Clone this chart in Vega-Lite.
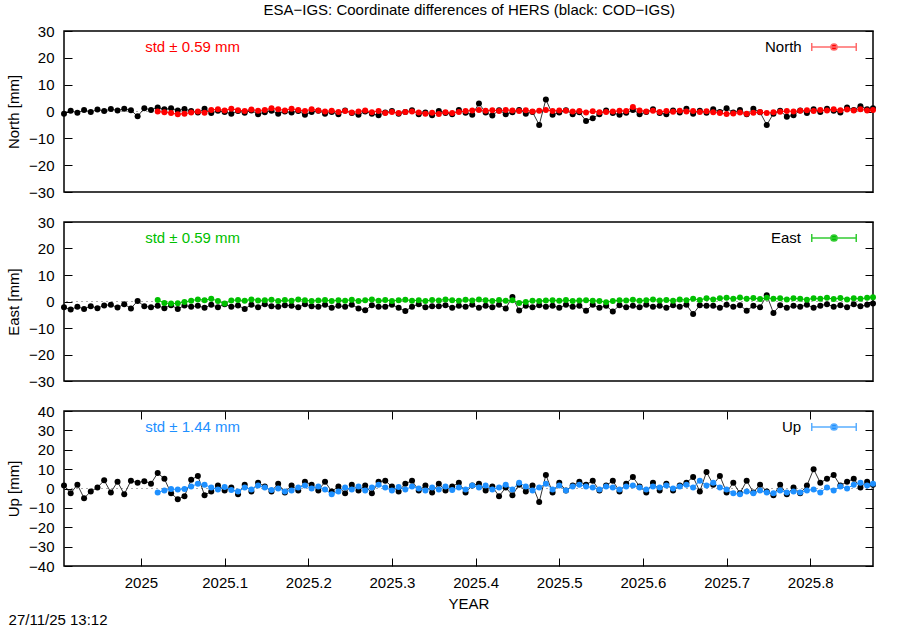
{
  "$schema": "https://vega.github.io/schema/vega-lite/v6.json",
  "background": "white",
  "padding": {"left": 5, "top": 3, "right": 5, "bottom": 0},
  "title": {"text": "ESA−IGS: Coordinate differences of HERS (black: COD−IGS)", "fontSize": 15, "fontWeight": "normal", "font": "Liberation Sans", "anchor": "middle", "offset": 5, "dx": 28, "color": "black"},
  "config": {
    "font": "Liberation Sans",
    "view": {"stroke": "black", "strokeWidth": 1.5},
    "axis": {"labelFontSize": 15, "titleFontSize": 15, "titleFontWeight": "normal", "labelColor": "black", "titleColor": "black", "tickColor": "black", "domain": false, "grid": false, "tickSize": -8, "labelPadding": 18, "tickWidth": 1, "labelFont": "Liberation Sans", "titleFont": "Liberation Sans"},
    "legend": {"titleFont": "Liberation Sans", "labelFont": "Liberation Sans"},
    "concat": {"spacing": 30}
  },
  "data": {"values": [
    {"t":2024.908,"nb":-0.8,"eb":-2.2,"ub":1.5},
    {"t":2024.916,"nb":0.3,"eb":-3.0,"ub":-2.5},
    {"t":2024.924,"nb":-0.5,"eb":-2.0,"ub":2.0},
    {"t":2024.932,"nb":0.6,"eb":-2.8,"ub":-5.0},
    {"t":2024.940,"nb":-0.2,"eb":-1.8,"ub":-1.5},
    {"t":2024.948,"nb":0.7,"eb":-2.5,"ub":0.5},
    {"t":2024.956,"nb":0.2,"eb":-1.5,"ub":4.2},
    {"t":2024.964,"nb":0.9,"eb":-1.2,"ub":-2.0},
    {"t":2024.972,"nb":0.4,"eb":-2.3,"ub":3.5},
    {"t":2024.980,"nb":1.0,"eb":-1.0,"ub":-3.0},
    {"t":2024.988,"nb":0.5,"eb":-2.6,"ub":4.0},
    {"t":2024.996,"nb":-1.8,"eb":0.2,"ub":3.0},
    {"t":2025.004,"nb":1.2,"eb":-1.8,"ub":3.8},
    {"t":2025.012,"nb":0.6,"eb":-2.2,"ub":2.5},
    {"t":2025.020,"nb":1.5,"nc":0.0,"eb":-1.6,"ec":0.6,"ub":8.0,"uc":-2.0},
    {"t":2025.028,"nb":0.8,"nc":-0.3,"eb":-2.5,"ec":-0.6,"ub":5.0,"uc":-1.0},
    {"t":2025.036,"nb":1.2,"nc":-0.6,"eb":-1.4,"ec":-0.8,"ub":-2.5,"uc":-0.3},
    {"t":2025.044,"nb":0.4,"nc":-1.0,"eb":-2.8,"ec":-0.7,"ub":-5.5,"uc":-0.5},
    {"t":2025.052,"nb":0.9,"nc":-0.8,"eb":-1.5,"ec":-0.2,"ub":-4.0,"uc":-0.2},
    {"t":2025.060,"nb":0.2,"nc":-0.4,"eb":-2.0,"ec":0.3,"ub":4.5,"uc":1.0},
    {"t":2025.068,"nb":-0.4,"nc":0.0,"eb":-1.6,"ec":0.8,"ub":6.5,"uc":2.5},
    {"t":2025.076,"nb":1.0,"nc":-0.5,"eb":-2.4,"ec":0.5,"ub":-3.5,"uc":2.0},
    {"t":2025.084,"nb":-0.6,"nc":0.6,"eb":-1.2,"ec":1.0,"ub":-1.5,"uc":0.5},
    {"t":2025.092,"nb":0.3,"nc":0.8,"eb":-2.2,"ec":0.2,"ub":1.5,"uc":-0.5},
    {"t":2025.100,"nb":-0.2,"nc":0.4,"eb":-1.0,"ec":-0.8,"ub":-1.0,"uc":0.8},
    {"t":2025.108,"nb":-0.8,"nc":1.0,"eb":-2.0,"ec":0.4,"ub":0.5,"uc":-0.8},
    {"t":2025.116,"nb":0.2,"nc":0.5,"eb":-1.5,"ec":0.6,"ub":-3.0,"uc":-1.5},
    {"t":2025.124,"nb":-0.5,"nc":0.2,"eb":-2.8,"ec":0.3,"ub":2.0,"uc":0.5},
    {"t":2025.132,"nb":0.4,"nc":0.7,"eb":-1.2,"ec":0.8,"ub":-1.5,"uc":-0.5},
    {"t":2025.140,"nb":-1.0,"nc":0.3,"eb":-2.2,"ec":0.4,"ub":3.0,"uc":1.5},
    {"t":2025.148,"nb":-0.3,"nc":0.6,"eb":-1.0,"ec":0.5,"ub":1.0,"uc":0.5},
    {"t":2025.156,"nb":0.3,"nc":1.2,"eb":-1.8,"ec":0.7,"ub":-1.5,"uc":-0.8},
    {"t":2025.164,"nb":-0.8,"nc":0.8,"eb":-2.0,"ec":0.2,"ub":2.5,"uc":0.0},
    {"t":2025.172,"nb":0.0,"nc":0.4,"eb":-1.4,"ec":0.6,"ub":-2.0,"uc":-1.5},
    {"t":2025.180,"nb":-0.4,"nc":1.0,"eb":-1.6,"ec":0.3,"ub":1.5,"uc":-1.0},
    {"t":2025.188,"nb":0.2,"nc":0.6,"eb":-2.2,"ec":0.8,"ub":-1.0,"uc":0.5},
    {"t":2025.196,"nb":-1.2,"nc":0.2,"eb":-1.0,"ec":0.5,"ub":3.5,"uc":1.5},
    {"t":2025.204,"nb":-0.2,"nc":0.8,"eb":-1.8,"ec":0.2,"ub":2.0,"uc":0.0},
    {"t":2025.212,"nb":0.3,"nc":0.4,"eb":-2.0,"ec":0.4,"ub":-1.0,"uc":1.0},
    {"t":2025.220,"nb":-0.8,"nc":0.0,"eb":-1.2,"ec":0.6,"ub":3.5,"uc":-0.5},
    {"t":2025.228,"nb":-0.2,"nc":0.3,"eb":-2.4,"ec":0.2,"ub":-1.5,"uc":-3.0},
    {"t":2025.236,"nb":-1.0,"nc":-0.2,"eb":-1.6,"ec":0.5,"ub":1.0,"uc":-1.5},
    {"t":2025.244,"nb":0.4,"nc":0.2,"eb":-2.0,"ec":0.3,"ub":-2.5,"uc":0.5},
    {"t":2025.252,"nb":-0.6,"nc":-0.4,"eb":-1.2,"ec":0.7,"ub":2.0,"uc":-0.5},
    {"t":2025.260,"nb":-1.2,"nc":0.0,"eb":-2.6,"ec":0.2,"ub":-1.0,"uc":1.0},
    {"t":2025.268,"nb":0.0,"nc":0.4,"eb":-3.3,"ec":0.5,"ub":1.5,"uc":-1.0},
    {"t":2025.276,"nb":-0.8,"nc":-0.3,"eb":-1.4,"ec":0.8,"ub":-2.5,"uc":0.5},
    {"t":2025.284,"nb":-1.4,"nc":0.2,"eb":-2.0,"ec":0.3,"ub":3.5,"uc":2.0},
    {"t":2025.292,"nb":-0.4,"nc":-0.6,"eb":-2.0,"ec":0.6,"ub":4.0,"uc":0.5},
    {"t":2025.300,"nb":0.2,"nc":-0.2,"eb":-1.2,"ec":0.2,"ub":1.0,"uc":-1.0},
    {"t":2025.308,"nb":-0.8,"nc":-0.6,"eb":-2.4,"ec":0.5,"ub":-1.5,"uc":0.8},
    {"t":2025.316,"nb":-0.2,"nc":-0.2,"eb":-3.6,"ec":0.7,"ub":2.5,"uc":-0.5},
    {"t":2025.324,"nb":0.5,"nc":0.0,"eb":-2.0,"ec":0.3,"ub":4.0,"uc":1.0},
    {"t":2025.332,"nb":-1.0,"nc":-0.4,"eb":-1.0,"ec":0.5,"ub":-1.0,"uc":0.0},
    {"t":2025.340,"nb":-0.4,"nc":-0.8,"eb":-2.2,"ec":0.2,"ub":1.5,"uc":-1.0},
    {"t":2025.348,"nb":-1.4,"nc":-0.5,"eb":-1.8,"ec":0.6,"ub":-2.0,"uc":0.5},
    {"t":2025.356,"nb":0.2,"nc":-0.9,"eb":-1.8,"ec":0.4,"ub":2.5,"uc":-0.5},
    {"t":2025.364,"nb":-0.6,"nc":-0.3,"eb":-1.4,"ec":0.8,"ub":-1.0,"uc":1.0},
    {"t":2025.372,"nb":-1.0,"nc":-0.6,"eb":-2.4,"ec":0.5,"ub":1.0,"uc":-0.8},
    {"t":2025.380,"nb":0.6,"nc":-0.2,"eb":-1.6,"ec":0.3,"ub":3.0,"uc":0.5},
    {"t":2025.388,"nb":-0.5,"nc":0.2,"eb":-2.0,"ec":0.7,"ub":-2.0,"uc":-0.5},
    {"t":2025.396,"nb":-1.2,"nc":0.4,"eb":-1.2,"ec":0.4,"ub":1.5,"uc":1.5},
    {"t":2025.404,"nb":3.0,"nc":0.6,"eb":-2.4,"ec":0.8,"ub":2.5,"uc":0.5},
    {"t":2025.412,"nb":-0.4,"nc":0.3,"eb":-1.6,"ec":0.5,"ub":-1.0,"uc":1.5},
    {"t":2025.420,"nb":-1.5,"nc":0.5,"eb":-2.2,"ec":0.2,"ub":1.0,"uc":-0.5},
    {"t":2025.428,"nb":0.5,"nc":0.2,"eb":-1.2,"ec":0.6,"ub":-4.0,"uc":0.5},
    {"t":2025.436,"nb":-1.0,"nc":0.6,"eb":-2.6,"ec":0.3,"ub":0.5,"uc":2.0},
    {"t":2025.444,"nb":-0.3,"nc":0.4,"eb":1.7,"ec":0.5,"ub":-3.5,"uc":-0.5},
    {"t":2025.452,"nb":0.6,"nc":0.2,"eb":-3.4,"ec":-0.6,"ub":2.0,"uc":3.0},
    {"t":2025.460,"nb":-0.8,"nc":0.5,"eb":-1.6,"ec":-0.2,"ub":-1.5,"uc":1.0},
    {"t":2025.468,"nb":-0.2,"nc":0.0,"eb":-2.2,"ec":0.3,"ub":1.5,"uc":-1.0},
    {"t":2025.476,"nb":-5.0,"nc":0.3,"eb":-1.4,"ec":0.2,"ub":-7.0,"uc":0.5},
    {"t":2025.484,"nb":4.5,"nc":0.6,"eb":-2.0,"ec":0.4,"ub":7.0,"uc":2.5},
    {"t":2025.492,"nb":-1.2,"nc":0.2,"eb":-1.6,"ec":0.5,"ub":-2.0,"uc":-0.5},
    {"t":2025.500,"nb":-0.4,"nc":0.4,"eb":-2.4,"ec":0.3,"ub":3.0,"uc":1.5},
    {"t":2025.508,"nb":0.5,"nc":0.3,"eb":-1.2,"ec":0.6,"ub":-1.0,"uc":-1.0},
    {"t":2025.516,"nb":-1.0,"nc":0.0,"eb":-2.0,"ec":0.2,"ub":1.5,"uc":1.0},
    {"t":2025.524,"nb":-0.3,"nc":0.2,"eb":-1.6,"ec":0.4,"ub":3.5,"uc":2.0},
    {"t":2025.532,"nb":-3.5,"nc":-0.4,"eb":-3.5,"ec":0.5,"ub":2.0,"uc":1.0},
    {"t":2025.540,"nb":-2.5,"nc":0.1,"eb":-1.2,"ec":0.3,"ub":4.0,"uc":0.5},
    {"t":2025.548,"nb":-1.0,"nc":-0.3,"eb":-2.4,"ec":0.2,"ub":-1.0,"uc":-0.5},
    {"t":2025.556,"nb":0.4,"nc":-0.2,"eb":-1.6,"ec":-0.3,"ub":1.5,"uc":1.0},
    {"t":2025.564,"nb":-0.6,"nc":0.0,"eb":-3.8,"ec":0.2,"ub":4.0,"uc":0.5},
    {"t":2025.572,"nb":-1.2,"nc":0.3,"eb":-1.4,"ec":0.5,"ub":-1.5,"uc":-0.5},
    {"t":2025.580,"nb":-0.5,"nc":0.2,"eb":-2.2,"ec":0.4,"ub":2.5,"uc":1.0},
    {"t":2025.588,"nb":0.6,"nc":1.7,"eb":-1.6,"ec":0.7,"ub":6.0,"uc":1.5},
    {"t":2025.596,"nb":-1.0,"nc":0.4,"eb":-2.2,"ec":0.3,"ub":1.0,"uc":0.5},
    {"t":2025.604,"nb":-0.2,"nc":0.0,"eb":-1.2,"ec":0.5,"ub":-2.0,"uc":-0.5},
    {"t":2025.612,"nb":0.8,"nc":0.3,"eb":-2.0,"ec":0.8,"ub":3.0,"uc":1.0},
    {"t":2025.620,"nb":-0.6,"nc":-0.2,"eb":-1.6,"ec":0.4,"ub":-1.0,"uc":0.5},
    {"t":2025.628,"nb":-1.0,"nc":0.2,"eb":-2.4,"ec":0.6,"ub":2.5,"uc":1.5},
    {"t":2025.636,"nb":0.4,"nc":-0.1,"eb":-1.4,"ec":0.3,"ub":-1.0,"uc":0.0},
    {"t":2025.644,"nb":-0.4,"nc":0.3,"eb":-2.0,"ec":0.8,"ub":1.5,"uc":1.0},
    {"t":2025.652,"nb":1.0,"nc":0.0,"eb":-1.2,"ec":0.5,"ub":3.0,"uc":2.0},
    {"t":2025.660,"nb":-0.8,"nc":0.2,"eb":-4.7,"ec":1.0,"ub":6.0,"uc":0.5},
    {"t":2025.668,"nb":0.3,"nc":-0.2,"eb":-1.4,"ec":0.6,"ub":-1.5,"uc":4.0},
    {"t":2025.676,"nb":-0.5,"nc":0.1,"eb":-1.6,"ec":1.2,"ub":8.5,"uc":1.5},
    {"t":2025.684,"nb":0.8,"nc":-0.3,"eb":-1.6,"ec":0.8,"ub":2.0,"uc":3.0},
    {"t":2025.692,"nb":-0.2,"nc":-0.6,"eb":-2.4,"ec":1.2,"ub":6.5,"uc":0.5},
    {"t":2025.700,"nb":1.2,"nc":-0.9,"eb":-1.2,"ec":1.4,"ub":-2.0,"uc":-0.5},
    {"t":2025.708,"nb":-0.4,"nc":-0.7,"eb":-2.0,"ec":1.0,"ub":3.0,"uc":-2.5},
    {"t":2025.716,"nb":0.6,"nc":-0.4,"eb":-1.4,"ec":1.5,"ub":-2.5,"uc":-3.0},
    {"t":2025.724,"nb":-1.0,"nc":-0.8,"eb":-3.5,"ec":1.0,"ub":4.0,"uc":-1.5},
    {"t":2025.732,"nb":1.0,"nc":-0.5,"eb":-1.6,"ec":1.3,"ub":-2.0,"uc":-2.5},
    {"t":2025.740,"nb":-0.3,"nc":-0.2,"eb":-2.2,"ec":0.9,"ub":2.0,"uc":-1.0},
    {"t":2025.748,"nb":-5.0,"nc":-0.6,"eb":2.4,"ec":1.4,"ub":-1.5,"uc":-2.0},
    {"t":2025.756,"nb":-0.8,"nc":-0.3,"eb":-4.3,"ec":1.0,"ub":-3.5,"uc":-2.5},
    {"t":2025.764,"nb":0.3,"nc":-0.1,"eb":-1.4,"ec":1.2,"ub":2.0,"uc":-1.0},
    {"t":2025.772,"nb":-2.0,"nc":0.2,"eb":-2.4,"ec":0.8,"ub":-3.0,"uc":-2.0},
    {"t":2025.780,"nb":-1.4,"nc":0.0,"eb":-1.6,"ec":1.2,"ub":0.5,"uc":-1.5},
    {"t":2025.788,"nb":0.4,"nc":0.3,"eb":-2.0,"ec":1.0,"ub":-2.5,"uc":-2.0},
    {"t":2025.796,"nb":-0.6,"nc":0.5,"eb":-1.2,"ec":0.7,"ub":1.5,"uc":-1.0},
    {"t":2025.804,"nb":0.8,"nc":0.2,"eb":-2.4,"ec":1.2,"ub":10.0,"uc":-0.5},
    {"t":2025.812,"nb":-0.2,"nc":0.6,"eb":-1.6,"ec":1.0,"ub":3.0,"uc":-2.0},
    {"t":2025.820,"nb":1.0,"nc":0.4,"eb":-1.0,"ec":1.4,"ub":5.0,"uc":0.5},
    {"t":2025.828,"nb":0.3,"nc":0.8,"eb":-2.0,"ec":0.9,"ub":7.0,"uc":-1.0},
    {"t":2025.836,"nb":-0.4,"nc":0.5,"eb":-1.4,"ec":1.3,"ub":1.5,"uc":1.0},
    {"t":2025.844,"nb":1.5,"nc":0.7,"eb":-2.2,"ec":0.8,"ub":3.5,"uc":0.0},
    {"t":2025.852,"nb":0.6,"nc":0.4,"eb":-1.0,"ec":1.2,"ub":5.0,"uc":2.0},
    {"t":2025.860,"nb":2.0,"nc":0.8,"eb":-1.8,"ec":1.0,"ub":0.5,"uc":3.0},
    {"t":2025.868,"nb":0.8,"nc":0.4,"eb":-1.2,"ec":1.4,"ub":3.5,"uc":1.5},
    {"t":2025.875,"nb":1.2,"nc":0.6,"eb":-0.8,"ec":1.6,"ub":2.0,"uc":2.5}
  ]},
  "bounds": "flush",
  "spacing": 30,
  "resolve": {"scale": {"x": "independent", "y": "independent", "color": "independent"}, "legend": {"color": "independent"}},
  "vconcat": [
    {
      "width": 809, "height": 161,
      "resolve": {"axis": {"y": "independent"}},
      "layer": [
        {"data": {"values": [{}]},
         "mark": {"type": "rule", "stroke": "#999999", "strokeDash": [2, 3], "strokeWidth": 0.8},
         "encoding": {"y": {"datum": 0, "type": "quantitative", "axis": null, "scale": {"domain": [-30, 30], "nice": false, "zero": false}}}},
        {"mark": {"type": "line", "color": "black", "strokeWidth": 0.8},
         "encoding": {
           "x": {"field": "t", "type": "quantitative", "scale": {"domain": [2024.908, 2025.875], "nice": false, "zero": false}, "axis": null},
           "y": {"field": "nb", "type": "quantitative", "scale": {"domain": [-30, 30], "nice": false, "zero": false}, "axis": {"title": "North [mm]", "values": [-30, -20, -10, 0, 10, 20, 30], "format": "d", "titlePadding": 7}}}},
        {"mark": {"type": "point", "filled": true, "shape": "circle", "color": "black", "size": 36, "opacity": 1},
         "encoding": {
           "x": {"field": "t", "type": "quantitative", "axis": null},
           "y": {"field": "nb", "type": "quantitative", "axis": {"orient": "right", "labels": false, "title": null, "values": [-30, -20, -10, 0, 10, 20, 30]}}}},
        {"mark": {"type": "line", "color": "#ff0000", "strokeWidth": 1},
         "encoding": {
           "x": {"field": "t", "type": "quantitative", "axis": null},
           "y": {"field": "nc", "type": "quantitative", "axis": null}}},
        {"mark": {"type": "point", "filled": true, "shape": "circle", "size": 36, "opacity": 1},
         "encoding": {
           "x": {"field": "t", "type": "quantitative", "axis": null},
           "y": {"field": "nc", "type": "quantitative", "axis": null},
           "color": {"datum": "North", "scale": {"domain": ["North"], "range": ["#ff0000"]},
             "legend": {"title": "North", "titleOrient": "left", "titleFontSize": 15, "titleFontWeight": "normal", "titleColor": "black", "titlePadding": 9, "labelExpr": "''", "labelOffset": 8, "orient": "top-right", "offset": 8, "padding": 0,
               "symbolType": "M-1,0H1M-1,-0.18V0.18M1,-0.18V0.18M-0.14,0A0.14,0.14,0,1,0,0.14,0A0.14,0.14,0,1,0,-0.14,0Z", "symbolSize": 1980, "clipHeight": 16,
               "symbolStrokeColor": "#ff6b6b", "symbolFillColor": "#ff0000", "symbolStrokeWidth": 1.5, "symbolOpacity": 1,
               "encode": {"symbols": {"enter": {"stroke": {"value": "#ff6b6b"}, "strokeWidth": {"value": 1.5}, "strokeOpacity": {"value": 1}}, "update": {"fill": {"value": "#ff0000"}, "stroke": {"value": "#ff6b6b"}, "strokeWidth": {"value": 1.5}, "strokeOpacity": {"value": 1}, "opacity": {"value": 1}}}}}}}},
        {"data": {"values": [{}]},
         "mark": {"type": "text", "align": "left", "baseline": "middle", "fontSize": 15, "color": "#ff0000", "text": "std ± 0.59 mm"},
         "encoding": {
           "x": {"datum": 2025.005, "type": "quantitative", "axis": null},
           "y": {"datum": 24.0, "type": "quantitative", "axis": null}}}
      ]
    },
    {
      "width": 809, "height": 159,
      "resolve": {"axis": {"y": "independent"}},
      "layer": [
        {"data": {"values": [{}]},
         "mark": {"type": "rule", "stroke": "#999999", "strokeDash": [2, 3], "strokeWidth": 0.8},
         "encoding": {"y": {"datum": 0, "type": "quantitative", "axis": null, "scale": {"domain": [-30, 30], "nice": false, "zero": false}}}},
        {"mark": {"type": "line", "color": "black", "strokeWidth": 0.8},
         "encoding": {
           "x": {"field": "t", "type": "quantitative", "scale": {"domain": [2024.908, 2025.875], "nice": false, "zero": false}, "axis": null},
           "y": {"field": "eb", "type": "quantitative", "scale": {"domain": [-30, 30], "nice": false, "zero": false}, "axis": {"title": "East [mm]", "values": [-30, -20, -10, 0, 10, 20, 30], "format": "d", "titlePadding": 7}}}},
        {"mark": {"type": "point", "filled": true, "shape": "circle", "color": "black", "size": 36, "opacity": 1},
         "encoding": {
           "x": {"field": "t", "type": "quantitative", "axis": null},
           "y": {"field": "eb", "type": "quantitative", "axis": {"orient": "right", "labels": false, "title": null, "values": [-30, -20, -10, 0, 10, 20, 30]}}}},
        {"mark": {"type": "line", "color": "#00c000", "strokeWidth": 1},
         "encoding": {
           "x": {"field": "t", "type": "quantitative", "axis": null},
           "y": {"field": "ec", "type": "quantitative", "axis": null}}},
        {"mark": {"type": "point", "filled": true, "shape": "circle", "size": 36, "opacity": 1},
         "encoding": {
           "x": {"field": "t", "type": "quantitative", "axis": null},
           "y": {"field": "ec", "type": "quantitative", "axis": null},
           "color": {"datum": "East", "scale": {"domain": ["East"], "range": ["#00c000"]},
             "legend": {"title": "East", "titleOrient": "left", "titleFontSize": 15, "titleFontWeight": "normal", "titleColor": "black", "titlePadding": 9, "labelExpr": "''", "labelOffset": 8, "orient": "top-right", "offset": 8, "padding": 0,
               "symbolType": "M-1,0H1M-1,-0.18V0.18M1,-0.18V0.18M-0.14,0A0.14,0.14,0,1,0,0.14,0A0.14,0.14,0,1,0,-0.14,0Z", "symbolSize": 1980, "clipHeight": 16,
               "symbolStrokeColor": "#33cc33", "symbolFillColor": "#00c000", "symbolStrokeWidth": 1.5, "symbolOpacity": 1,
               "encode": {"symbols": {"enter": {"stroke": {"value": "#33cc33"}, "strokeWidth": {"value": 1.5}, "strokeOpacity": {"value": 1}}, "update": {"fill": {"value": "#00c000"}, "stroke": {"value": "#33cc33"}, "strokeWidth": {"value": 1.5}, "strokeOpacity": {"value": 1}, "opacity": {"value": 1}}}}}}}},
        {"data": {"values": [{}]},
         "mark": {"type": "text", "align": "left", "baseline": "middle", "fontSize": 15, "color": "#00c000", "text": "std ± 0.59 mm"},
         "encoding": {
           "x": {"datum": 2025.005, "type": "quantitative", "axis": null},
           "y": {"datum": 24.0, "type": "quantitative", "axis": null}}}
      ]
    },
    {
      "width": 809, "height": 155,
      "title": {"text": "27/11/25 13:12", "orient": "bottom", "anchor": "start", "fontSize": 15, "fontWeight": "normal", "offset": 2, "dx": 2, "color": "black", "frame": "bounds"},
      "resolve": {"axis": {"y": "independent", "x": "independent"}},
      "layer": [
        {"data": {"values": [{}]},
         "mark": {"type": "rule", "stroke": "#999999", "strokeDash": [2, 3], "strokeWidth": 0.8},
         "encoding": {"y": {"datum": 0, "type": "quantitative", "axis": null, "scale": {"domain": [-40, 40], "nice": false, "zero": false}}}},
        {"mark": {"type": "line", "color": "black", "strokeWidth": 0.8},
         "encoding": {
           "x": {"field": "t", "type": "quantitative", "scale": {"domain": [2024.908, 2025.875], "nice": false, "zero": false}, "axis": {"title": "YEAR", "values": [2025, 2025.1, 2025.2, 2025.3, 2025.4, 2025.5, 2025.6, 2025.7, 2025.8], "format": "~g", "labelPadding": 17, "titlePadding": 6}},
           "y": {"field": "ub", "type": "quantitative", "scale": {"domain": [-40, 40], "nice": false, "zero": false}, "axis": {"title": "Up [mm]", "values": [-40, -30, -20, -10, 0, 10, 20, 30, 40], "format": "d", "titlePadding": 7}}}},
        {"mark": {"type": "point", "filled": true, "shape": "circle", "color": "black", "size": 36, "opacity": 1},
         "encoding": {
           "x": {"field": "t", "type": "quantitative", "axis": {"orient": "top", "labels": false, "title": null, "values": [2025, 2025.1, 2025.2, 2025.3, 2025.4, 2025.5, 2025.6, 2025.7, 2025.8]}},
           "y": {"field": "ub", "type": "quantitative", "axis": {"orient": "right", "labels": false, "title": null, "values": [-40, -30, -20, -10, 0, 10, 20, 30, 40]}}}},
        {"mark": {"type": "line", "color": "#1e90ff", "strokeWidth": 1},
         "encoding": {
           "x": {"field": "t", "type": "quantitative", "axis": null},
           "y": {"field": "uc", "type": "quantitative", "axis": null}}},
        {"mark": {"type": "point", "filled": true, "shape": "circle", "size": 36, "opacity": 1},
         "encoding": {
           "x": {"field": "t", "type": "quantitative", "axis": null},
           "y": {"field": "uc", "type": "quantitative", "axis": null},
           "color": {"datum": "Up", "scale": {"domain": ["Up"], "range": ["#1e90ff"]},
             "legend": {"title": "Up", "titleOrient": "left", "titleFontSize": 15, "titleFontWeight": "normal", "titleColor": "black", "titlePadding": 9, "labelExpr": "''", "labelOffset": 8, "orient": "top-right", "offset": 8, "padding": 0,
               "symbolType": "M-1,0H1M-1,-0.18V0.18M1,-0.18V0.18M-0.14,0A0.14,0.14,0,1,0,0.14,0A0.14,0.14,0,1,0,-0.14,0Z", "symbolSize": 1980, "clipHeight": 16,
               "symbolStrokeColor": "#5aaeff", "symbolFillColor": "#1e90ff", "symbolStrokeWidth": 1.5, "symbolOpacity": 1,
               "encode": {"symbols": {"enter": {"stroke": {"value": "#5aaeff"}, "strokeWidth": {"value": 1.5}, "strokeOpacity": {"value": 1}}, "update": {"fill": {"value": "#1e90ff"}, "stroke": {"value": "#5aaeff"}, "strokeWidth": {"value": 1.5}, "strokeOpacity": {"value": 1}, "opacity": {"value": 1}}}}}}}},
        {"data": {"values": [{}]},
         "mark": {"type": "text", "align": "left", "baseline": "middle", "fontSize": 15, "color": "#1e90ff", "text": "std ± 1.44 mm"},
         "encoding": {
           "x": {"datum": 2025.005, "type": "quantitative", "axis": null},
           "y": {"datum": 31.7, "type": "quantitative", "axis": null}}}
      ]
    }
  ]
}
